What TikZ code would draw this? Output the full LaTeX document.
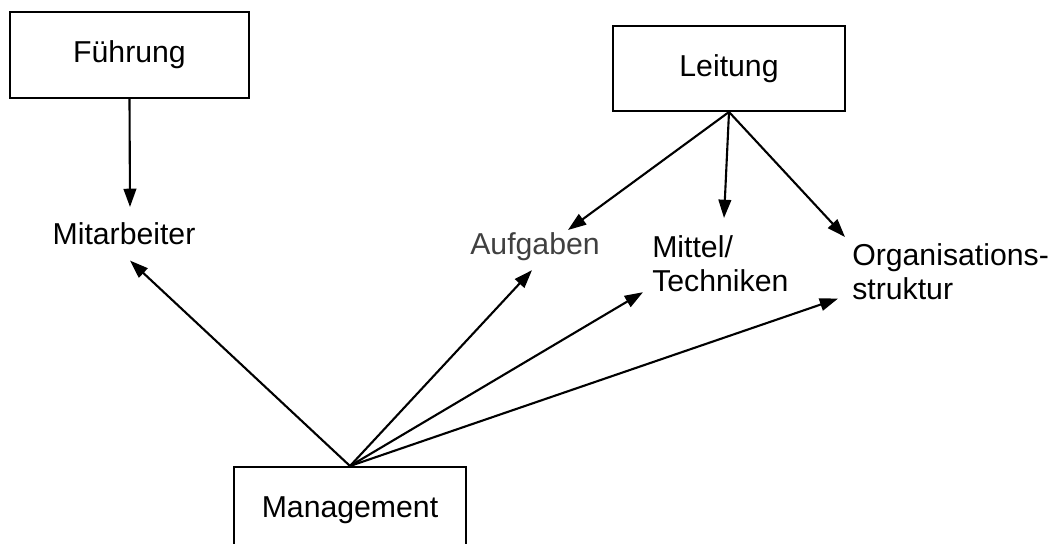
\documentclass[tikz,border=0pt]{standalone}
\usepackage{fontspec}
\setmainfont{Liberation Sans}
\usepackage{tikz}
\usetikzlibrary{arrows.meta,calc}

\tikzset{
  kasten/.style={draw,line width=1.4pt,minimum width=#1,minimum height=2.15cm,
    font=\fontsize{21.5}{24.5}\selectfont},
  wort/.style={inner sep=0pt,font=\fontsize{21.5}{24.5}\selectfont},
  pfeil/.style={line width=1.5pt,-{Triangle[length=13pt,width=9pt]}}
}

\begin{document}
\begin{tikzpicture}
\useasboundingbox (0,0) rectangle (26.475,13.6);
% Kaesten
\node[kasten=5.975cm] (fuehrung) at (3.2375,12.225) {Führung};
\node[kasten=5.8cm,minimum height=2.125cm] (leitung) at (18.225,11.8875) {Leitung};
\node[kasten=5.8cm] (management) at (8.75,0.85) {Management};
% Begriffe
\node[wort,anchor=base] (mitarbeiter) at (3.1,7.475) {Mitarbeiter};
\node[wort,anchor=base east,text=black!75] (aufgaben) at (15.0,7.225) {Aufgaben};
\node[wort,anchor=north west,align=left] (mittel) at (16.3,7.725) {Mittel/\\Techniken};
\node[wort,anchor=north west,align=left] (orga) at (21.3,7.525) {Organisations-\\struktur};
% Pfeile
\draw[pfeil] (fuehrung.south) -- ($(mitarbeiter.north)+(0.15,0.395)$);
\draw[pfeil] (leitung.south) -- ($(aufgaben.north east)+(-0.8,0.07)$);
\draw[pfeil] (leitung.south) -- ($(mittel.north west)+(1.8,0.425)$);
\draw[pfeil] (leitung.south) -- ($(orga.north west)+(-0.175,0.15)$);
\draw[pfeil] (management.north) -- ($(mitarbeiter.south)+(0.15,-0.375)$);
\draw[pfeil] (management.north) -- ($(aufgaben.south east)+(-1.7,-0.215)$);
\draw[pfeil] (management.north) -- ($(mittel.south west)+(-0.225,0)$);
\draw[pfeil] (management.north) -- ($(orga.south west)+(-0.35,0.04)$);
\end{tikzpicture}
\end{document}
